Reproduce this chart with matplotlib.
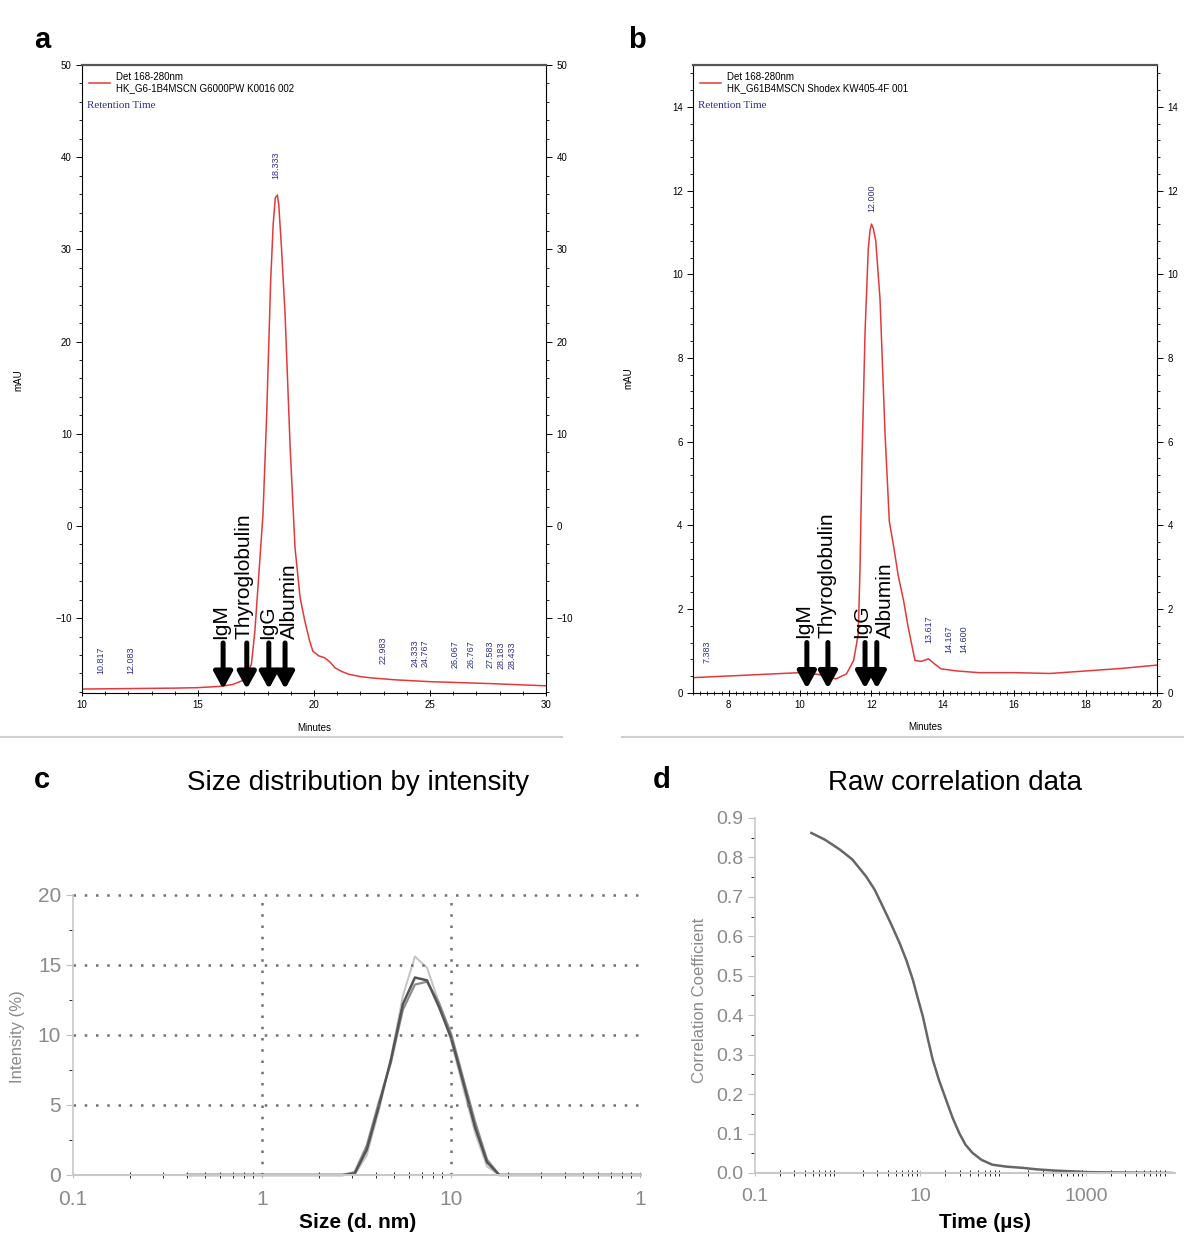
import numpy as np
import matplotlib
matplotlib.use("Agg")
import matplotlib.pyplot as plt
from matplotlib.ticker import AutoMinorLocator, MultipleLocator, FixedLocator, NullFormatter

plt.rcParams['font.family'] = ['Liberation Sans', 'DejaVu Sans']

# --- panel a: SEC chromatogram, G6000PW column ---
a_min = [10.0, 12.0, 14.0, 15.0, 16.0, 16.5, 17.0, 17.3, 17.45, 17.6, 17.8, 17.96, 18.13,
         18.24, 18.33, 18.42, 18.48, 18.6, 18.75, 18.97, 19.18, 19.4, 19.6, 19.8, 19.95,
         20.2, 20.45, 20.7, 20.9, 21.2, 21.5, 22.0, 22.5, 23.5, 25.0, 27.5, 30.0]
a_mau = [-17.7, -17.65, -17.6, -17.55, -17.4, -17.2, -16.7, -15.0, -11.4, -6.0, 1.3, 12.2, 26.6,
         32.8, 35.6, 35.9, 34.8, 30.0, 23.0, 8.5, -2.4, -7.8, -10.3, -12.4, -13.6,
         -14.1, -14.3, -14.8, -15.4, -15.8, -16.1, -16.35, -16.5, -16.7, -16.9, -17.1, -17.35]
a_peaks = ["10.817", "12.083", "18.333", "22.983", "24.333", "24.767", "26.067", "26.767",
           "27.583", "28.183", "28.433"]
a_peak_y = [-16.1, -16.1, 37.6, -15.0, -15.3, -15.3, -15.4, -15.4, -15.4, -15.5, -15.5]
a_std_x = [16.08, 17.1, 18.05, 18.75]

# --- panel b: SEC chromatogram, KW405-4F column ---
b_min = [7.0, 8.0, 9.0, 10.0, 10.5, 11.0, 11.3, 11.5, 11.63, 11.68, 11.73, 11.82, 11.91,
         11.96, 12.0, 12.05, 12.12, 12.24, 12.38, 12.5, 12.62, 12.75, 12.9, 13.03, 13.22,
         13.4, 13.6, 13.75, 13.95, 14.4, 15.0, 16.0, 17.0, 18.0, 19.0, 20.0]
b_mau = [0.36, 0.40, 0.44, 0.48, 0.44, 0.33, 0.45, 0.77, 1.4, 3.0, 5.4, 8.6, 10.6,
         11.05, 11.2, 11.1, 10.8, 9.4, 6.2, 4.1, 3.5, 2.8, 2.2, 1.56, 0.77,
         0.75, 0.81, 0.7, 0.57, 0.52, 0.48, 0.48, 0.46, 0.52, 0.58, 0.66]
b_peaks = ["7.383", "12.000", "13.617", "14.167", "14.600"]
b_peak_y = [0.72, 11.5, 1.2, 0.96, 0.96]
b_std_x = [10.19, 10.78, 11.82, 12.15]

std_names = ["IgM", "Thyroglobulin", "IgG", "Albumin"]

# --- panel c: DLS size distribution (3 runs) ---
size_nm = [0.4, 1.0, 2.67, 3.09, 3.58, 4.15, 4.80, 5.56, 6.44, 7.46, 8.63, 10.0, 11.6, 13.4,
           15.5, 18.0, 20.8, 100]
run_1 = [0, 0, 0, 0.1, 1.8, 4.9, 8.2, 12.2, 14.1, 13.9, 12.0, 9.8, 6.6, 3.4, 0.9, 0, 0, 0]
run_2 = [0, 0, 0, 0, 1.4, 4.6, 8.3, 12.8, 15.6, 14.8, 12.3, 9.6, 6.2, 3.0, 0.6, 0, 0, 0]
run_3 = [0, 0, 0, 0.2, 2.1, 5.2, 8.0, 11.8, 13.6, 13.8, 12.3, 10.1, 6.9, 3.8, 1.1, 0, 0, 0]

# --- panel d: raw correlation ---
time_us = [0.48, 0.7, 1.06, 1.5, 2.2, 2.8, 3.5, 4.4, 5.6, 6.8, 8.1, 9.3, 10.7, 12.3, 14.1,
           16.8, 20.4, 24.5, 29.5, 35, 42.6, 55, 74, 110, 171, 260, 427, 700, 1090, 3000, 11000]
corr = [0.862, 0.845, 0.82, 0.795, 0.752, 0.718, 0.676, 0.632, 0.583, 0.538, 0.49, 0.443,
        0.397, 0.34, 0.287, 0.235, 0.186, 0.14, 0.101, 0.072, 0.051, 0.033, 0.021, 0.016,
        0.013, 0.009, 0.006, 0.004, 0.002, 0.001, 0.0]

RED = "#e23a3a"
NAVY = "#2e2e8e"
GREY = "#8a8a8a"

fig = plt.figure(figsize=(11.84, 12.39), dpi=100)


def chromatogram(rect, x, y, xlim, ylim, xmaj, ymaj, xminor, yminor, legend, peaks, peak_y,
                 std_x, std_bottom, std_top, label_y, label_dx):
    ax = fig.add_axes(rect)
    ax.plot(x, y, color=RED, lw=1.1, label=legend)
    ax.set_xlim(*xlim)
    ax.set_ylim(*ylim)
    ax.xaxis.set_major_locator(MultipleLocator(xmaj))
    ax.yaxis.set_major_locator(MultipleLocator(ymaj))
    ax.xaxis.set_minor_locator(AutoMinorLocator(xminor))
    ax.yaxis.set_minor_locator(AutoMinorLocator(yminor))
    ax.tick_params(axis='both', labelsize=7, width=0.7, length=4)
    ax.tick_params(axis='both', which='minor', length=2.5, width=0.6)
    ax.tick_params(axis='y', direction='out', right=True, labelright=True)
    ax.tick_params(axis='y', which='minor', direction='out', right=True)
    ax.tick_params(axis='x', which='both', direction='inout')
    for s in ax.spines.values():
        s.set_linewidth(0.8)
    ax.spines['top'].set_linewidth(1.6)
    ax.spines['top'].set_color("#555555")
    ax.legend(loc='upper left', bbox_to_anchor=(0.0, 1.0), frameon=False, fontsize=7,
              handlelength=2.2, borderaxespad=0.3, handletextpad=0.6)
    ax.text(0.01, 0.935, "Retention Time", transform=ax.transAxes, color=NAVY,
            fontsize=8, family=['Liberation Serif', 'DejaVu Serif'], va='center')
    # peak labels; the last two sit almost on top of each other, nudge them apart a bit
    n = len(peaks)
    for i, (lab, py) in enumerate(zip(peaks, peak_y)):
        nudge = 0.0
        if n > 5 and i == n - 2:
            nudge = -0.12
        elif n > 5 and i == n - 1:
            nudge = 0.12
        ax.text(float(lab) + nudge, py, lab, rotation=90, ha='center', va='bottom',
                color=NAVY, fontsize=6.5, family=['Liberation Sans Narrow', 'Liberation Sans'])
    for name, sx, dx in zip(std_names, std_x, label_dx):
        ax.annotate("", xy=(sx, std_bottom), xytext=(sx, std_top),
                    arrowprops=dict(arrowstyle='-|>,head_width=0.55,head_length=1.0',
                                    color='black', lw=3.6, shrinkA=0, shrinkB=0))
        ax.text(sx + dx, label_y, name, rotation=90, ha='center', va='bottom',
                fontsize=15, color='black')
    return ax


ax_a = chromatogram([0.0693, 0.4409, 0.3919, 0.5066], a_min, a_mau, (10, 30), (-18.1, 50),
                    5, 10, 5, 5, "Det 168-280nm\nHK_G6-1B4MSCN G6000PW K0016 002",
                    a_peaks, a_peak_y, a_std_x, -17.7, -12.7, -12.3,
                    [-0.12, -0.1, -0.05, 0.2])
ax_b = chromatogram([0.5853, 0.4409, 0.3919, 0.5066], b_min, b_mau, (7, 20), (0, 15),
                    2, 2, 10, 5, "Det 168-280nm\nHK_G61B4MSCN Shodex KW405-4F 001",
                    b_peaks, b_peak_y, b_std_x, 0.1, 1.2, 1.3,
                    [-0.1, -0.03, -0.09, 0.23])

fig.text(18 / 1184, 1 - 380 / 1239, "mAU", rotation=90, fontsize=7, ha='center', va='center')
fig.text(628 / 1184, 1 - 378 / 1239, "mAU", rotation=90, fontsize=7, ha='center', va='center')
fig.text(314 / 1184, 1 - 728 / 1239, "Minutes", fontsize=7, ha='center', va='center')
fig.text(925 / 1184, 1 - 727 / 1239, "Minutes", fontsize=7, ha='center', va='center')

# thin borders under the chromatogram screenshots
fig.add_artist(plt.Line2D([0, 0.475], [1 - 737 / 1239] * 2, color="#d0d0d0", lw=1.5))
fig.add_artist(plt.Line2D([0.525, 1.0], [1 - 737 / 1239] * 2, color="#d0d0d0", lw=1.5))

# --- panel c ---
ax_c = fig.add_axes([0.0617, 0.0517, 0.4789, 0.226])
ax_c.plot(size_nm, run_2, color="#c4c4c4", lw=1.4, clip_on=False)
ax_c.plot(size_nm, run_3, color="#8c8c8c", lw=1.6, clip_on=False)
ax_c.plot(size_nm, run_1, color="#555555", lw=1.8, clip_on=False)
ax_c.set_xscale('log')
ax_c.set_xlim(0.1, 100)
ax_c.set_ylim(0, 20)
ax_c.xaxis.set_major_locator(FixedLocator([0.1, 1, 10, 100]))
ax_c.set_xticklabels(["0.1", "1", "10", "1"])
ax_c.yaxis.set_major_locator(MultipleLocator(5))
ax_c.yaxis.set_minor_locator(MultipleLocator(2.5))
ax_c.xaxis.set_minor_formatter(NullFormatter())
for v in [1, 10]:
    ax_c.axvline(v, color="#707070", ls=(0, (1, 3.5)), lw=1.8)
for v in [5, 10, 15, 20]:
    ax_c.axhline(v, color="#707070", ls=(0, (1, 3.5)), lw=1.8, clip_on=False)
for side in ['top', 'right']:
    ax_c.spines[side].set_visible(False)
ax_c.spines['left'].set_color("#c8c8c8")
ax_c.spines['bottom'].set_color("#c8c8c8")
ax_c.spines['left'].set_linewidth(1.2)
ax_c.spines['bottom'].set_linewidth(1.5)
ax_c.tick_params(axis='both', colors="#c0c0c0", labelcolor=GREY, labelsize=15, length=5)
ax_c.tick_params(axis='x', which='both', direction='inout', pad=8)
ax_c.tick_params(axis='y', which='minor', length=3)
ax_c.tick_params(axis='x', which='minor', length=4)
fig.text(18 / 1184, 1 - 1037 / 1239, "Intensity (%)", rotation=90, fontsize=12, color=GREY,
         ha='center', va='center')
fig.text(358 / 1184, 1 - 1222 / 1239, "Size (d. nm)", fontsize=15, fontweight='bold',
         ha='center', va='center')
fig.text(358 / 1184, 1 - 783 / 1239, "Size distribution by intensity", fontsize=20,
         ha='center', va='center')

# --- panel d ---
ax_d = fig.add_axes([0.6377, 0.0533, 0.3547, 0.2865])
ax_d.plot(time_us, corr, color="#666666", lw=1.8)
ax_d.set_xscale('log')
ax_d.set_xlim(0.1, 12000)
ax_d.set_ylim(0, 0.9)
ax_d.xaxis.set_major_locator(FixedLocator([0.1, 10, 1000]))
ax_d.set_xticklabels(["0.1", "10", "1000"])
ax_d.xaxis.set_minor_formatter(NullFormatter())
ax_d.yaxis.set_major_locator(MultipleLocator(0.1))
ax_d.yaxis.set_minor_locator(MultipleLocator(0.05))
ax_d.yaxis.set_major_formatter(matplotlib.ticker.FormatStrFormatter('%.1f'))
for side in ['top', 'right']:
    ax_d.spines[side].set_visible(False)
ax_d.spines['left'].set_color("#c8c8c8")
ax_d.spines['bottom'].set_color("#c8c8c8")
ax_d.spines['left'].set_linewidth(1.2)
ax_d.spines['bottom'].set_linewidth(1.5)
ax_d.tick_params(axis='both', colors="#c0c0c0", labelcolor=GREY, labelsize=14, length=5)
ax_d.tick_params(axis='x', which='both', direction='inout', pad=8)
ax_d.tick_params(axis='y', which='minor', length=3)
ax_d.tick_params(axis='x', which='minor', length=4)
fig.text(700 / 1184, 1 - 1000 / 1239, "Correlation Coefficient", rotation=90, fontsize=12,
         color=GREY, ha='center', va='center')
fig.text(985 / 1184, 1 - 1222 / 1239, "Time (\u00b5s)", fontsize=15, fontweight='bold',
         ha='center', va='center')
fig.text(955 / 1184, 1 - 783 / 1239, "Raw correlation data", fontsize=20,
         ha='center', va='center')

# panel letters
for lab, (px, py) in zip("abcd", [(42, 40), (637, 40), (42, 780), (662, 780)]):
    fig.text(px / 1184, 1 - py / 1239, lab, fontsize=21, fontweight='bold',
             ha='center', va='center')

fig.savefig("out.png", dpi=100)
